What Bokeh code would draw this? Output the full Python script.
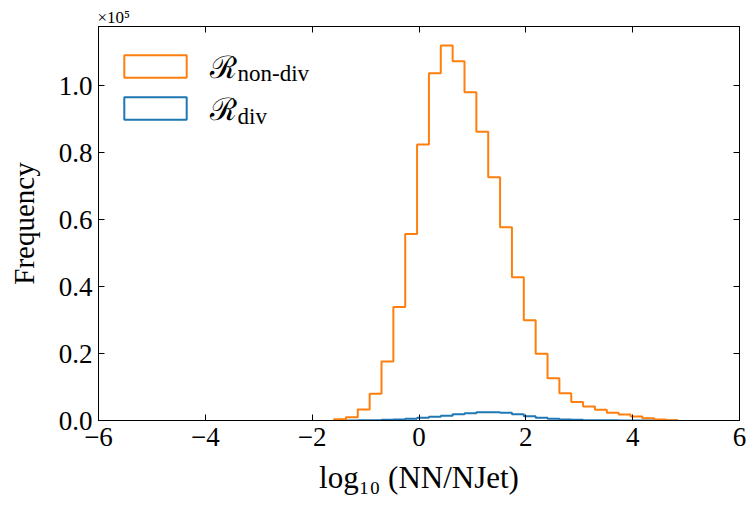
import numpy as np
from bokeh.plotting import figure
from bokeh.models import (Range1d, LinearAxis, FixedTicker, CustomJSTickFormatter,
                          Legend, LegendItem, Label)
from bokeh.embed import file_html
from bokeh.resources import INLINE

# ---- data ----
bin_edges = [-1.590, -1.368, -1.146, -0.924, -0.702, -0.480, -0.258, -0.036, 0.186, 0.408,
             0.630, 0.852, 1.074, 1.296, 1.518, 1.740, 1.962, 2.184, 2.406, 2.628,
             2.850, 3.072, 3.294, 3.516, 3.738, 3.960, 4.182, 4.404, 4.626, 4.848]
counts_nondiv = [400, 1000, 3300, 8000, 17600, 33900, 55700, 82400, 103700, 112000,
                 107300, 98000, 86200, 72600, 57700, 42800, 29900, 19900, 12600, 8100,
                 5500, 4200, 3200, 2300, 1800, 1200, 700, 300, 100]
counts_div = [0, 20, 50, 100, 200, 300, 500, 800, 1100, 1400,
              1900, 2200, 2450, 2500, 2300, 1900, 1300, 800, 500, 300,
              200, 100, 100, 50, 30, 20, 10, 5, 0]
x_ticks = [-6, -4, -2, 0, 2, 4, 6]
y_ticks = [0, 20000, 40000, 60000, 80000, 100000]
series_labels = ["\u211B", "\u211B"]
series_subs = ["non-div", "div"]

ORANGE = "#ff7f0e"
BLUE = "#1f77b4"
FONT = "Liberation Serif"


def step_xy(edges, vals):
    xs = np.repeat(np.asarray(edges, dtype=float), 2)
    ys = np.concatenate([[0.0], np.repeat(np.asarray(vals, dtype=float), 2), [0.0]])
    return xs, ys


p = figure(width=747, height=505, x_range=Range1d(-6, 6), y_range=Range1d(0, 117640),
           output_backend="svg", toolbar_location=None,
           min_border_left=98, min_border_right=8, min_border_top=26, min_border_bottom=85)
p.xgrid.visible = False
p.ygrid.visible = False
p.outline_line_color = "black"
p.outline_line_width = 1
p.outline_line_alpha = 1
p.background_fill_color = "white"
p.border_fill_color = "white"

p.title.text = "\u00d710\u2075"
p.title.align = "left"
p.title.offset = -1
p.title.standoff = 0
p.title.text_font = FONT
p.title.text_font_size = "17px"
p.title.text_font_style = "normal"
p.title.text_color = "black"

xs, ys = step_xy(bin_edges, counts_div)
p.line(xs, ys, line_color=BLUE, line_width=2)
xs, ys = step_xy(bin_edges, counts_nondiv)
p.line(xs, ys, line_color=ORANGE, line_width=2)

# legend proxies (NaN -> nothing drawn in the plot, only the legend boxes)
nan = [float("nan")]
r_o = p.quad(left=nan, right=nan, top=nan, bottom=nan, fill_alpha=0,
             line_color=ORANGE, line_width=2)
r_b = p.quad(left=nan, right=nan, top=nan, bottom=nan, fill_alpha=0,
             line_color=BLUE, line_width=2)

xfmt = CustomJSTickFormatter(code="return (tick < 0 ? '\\u2212' : '') + Math.abs(tick).toFixed(0);")
yfmt = CustomJSTickFormatter(code="return (tick / 1e5).toFixed(1);")
blank = CustomJSTickFormatter(code="return '';")


def style_axis(ax, ticks):
    ax.ticker = FixedTicker(ticks=ticks)
    ax.major_tick_in = 6
    ax.major_tick_out = 0
    ax.minor_tick_in = 0
    ax.minor_tick_out = 0
    ax.major_tick_line_color = "black"
    ax.axis_line_color = "black"
    ax.major_label_text_font = FONT
    ax.major_label_text_color = "black"
    ax.major_label_text_font_size = "27px"


xa = p.xaxis[0]
style_axis(xa, x_ticks)
xa.formatter = xfmt
xa.major_label_standoff = 7
xa.axis_label = "log\u2081\u2080 (NN/NJet)"
xa.axis_label_text_font = FONT
xa.axis_label_text_font_size = "31px"
xa.axis_label_text_font_style = "normal"
xa.axis_label_text_color = "black"
xa.axis_label_standoff = 11

ya = p.yaxis[0]
style_axis(ya, y_ticks)
ya.formatter = yfmt
ya.major_label_standoff = 6
ya.axis_label = "Frequency"
ya.axis_label_text_font = FONT
ya.axis_label_text_font_size = "29px"
ya.axis_label_text_font_style = "normal"
ya.axis_label_text_color = "black"
ya.axis_label_standoff = 16

ra = LinearAxis()
style_axis(ra, y_ticks)
ra.formatter = blank
ra.major_label_standoff = 0
p.add_layout(ra, "right")
ta = LinearAxis()
style_axis(ta, x_ticks)
ta.formatter = blank
ta.major_label_standoff = 0
p.add_layout(ta, "above")

legend = Legend(items=[LegendItem(label=series_labels[0], renderers=[r_o]),
                       LegendItem(label=series_labels[1], renderers=[r_b])],
                location=(18, 291), padding=0, margin=0, spacing=0,
                glyph_width=78, glyph_height=28, label_height=28, label_standoff=16,
                label_text_font=FONT, label_text_font_size="31px",
                label_text_color="black",
                border_line_alpha=0, background_fill_alpha=0)
p.add_layout(legend, "center")

p.add_layout(Label(x=139, y=347, x_units="screen", y_units="screen", text=series_subs[0],
                   text_font=FONT, text_font_size="23px", text_baseline="alphabetic",
                   text_color="black"))
p.add_layout(Label(x=139, y=304, x_units="screen", y_units="screen", text=series_subs[1],
                   text_font=FONT, text_font_size="23px", text_baseline="alphabetic",
                   text_color="black"))

open("out.html", "w").write(file_html(p, INLINE))
